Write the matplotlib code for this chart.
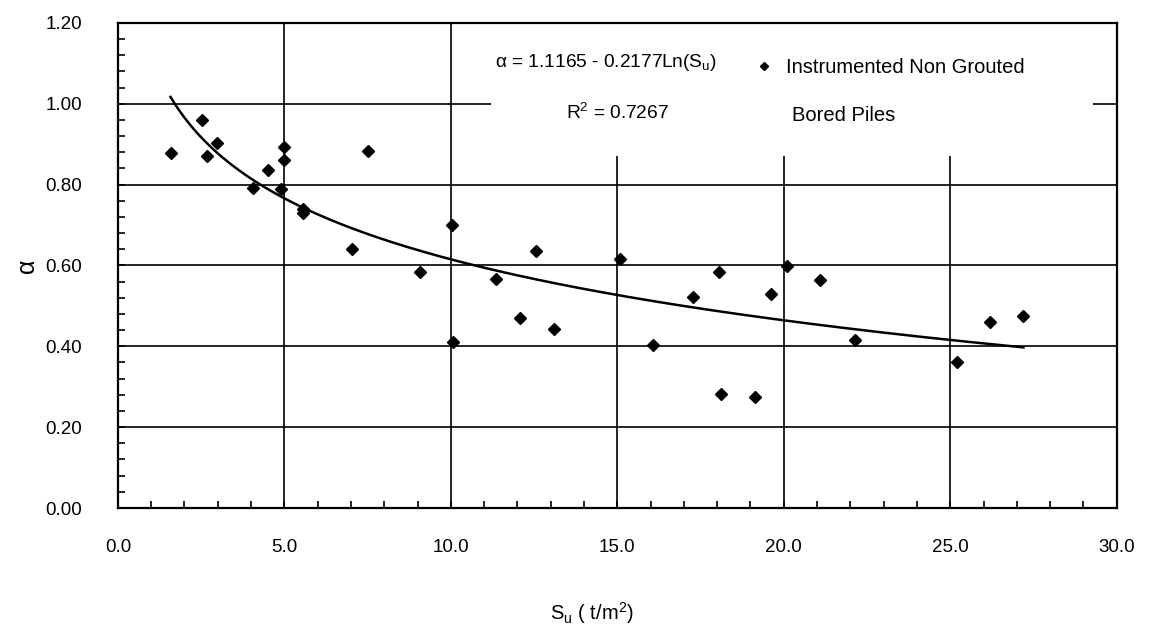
import numpy as np
import matplotlib
matplotlib.use("Agg")
import matplotlib.pyplot as plt
from matplotlib.patches import Rectangle
from matplotlib.ticker import MultipleLocator, FormatStrFormatter

# measured points (Su in t/m2, adhesion factor alpha)
su = [1.58, 2.52, 2.67, 2.99, 4.05, 4.52, 4.90, 5.00, 5.00, 5.55, 5.55,
      7.03, 7.50, 9.08, 10.02, 10.06, 11.37, 12.08, 12.55, 13.11, 15.08,
      16.07, 17.26, 18.06, 18.12, 19.13, 19.62, 20.11, 21.10, 22.13,
      25.20, 26.20, 27.20]
alpha = [0.878, 0.959, 0.871, 0.903, 0.791, 0.837, 0.788, 0.893, 0.862,
         0.739, 0.729, 0.640, 0.882, 0.583, 0.701, 0.410, 0.566, 0.471,
         0.637, 0.443, 0.617, 0.403, 0.523, 0.585, 0.282, 0.275, 0.530,
         0.599, 0.565, 0.416, 0.360, 0.461, 0.475]

# log fit reported on the chart
fit_a = 1.1165
fit_b = 0.2177
fit_r2 = 0.7267

plt.rcParams['font.family'] = ['Liberation Sans', 'DejaVu Sans']
plt.rcParams['mathtext.default'] = 'regular'

fig = plt.figure(figsize=(11.56, 6.37), dpi=100)
ax = fig.add_axes([0.102, 0.2025, 0.864, 0.7615])

ax.set_axisbelow(True)
ax.grid(True, which='major', color='black', linewidth=1.2)

# white panel behind the equation / legend text (hides the gridlines there)
ax.add_patch(Rectangle((11.2, 0.87), 18.1, 0.33, facecolor='white',
                       edgecolor='none', zorder=1))

ax.plot(su, alpha, linestyle='none', marker='D', markersize=6.5,
        color='black', zorder=3, label='Instrumented Non Grouted')

x_fit = np.linspace(min(su), max(su), 200)
ax.plot(x_fit, fit_a - fit_b * np.log(x_fit), color='black',
        linewidth=1.8, zorder=2)

ax.set_xlim(0, 30)
ax.set_ylim(0, 1.2)
ax.xaxis.set_major_locator(MultipleLocator(5))
ax.xaxis.set_minor_locator(MultipleLocator(1))
ax.yaxis.set_major_locator(MultipleLocator(0.2))
ax.yaxis.set_minor_locator(MultipleLocator(0.04))
ax.xaxis.set_major_formatter(FormatStrFormatter('%.1f'))
ax.yaxis.set_major_formatter(FormatStrFormatter('%.2f'))
ax.tick_params(which='both', direction='in', length=5, width=1.2,
               colors='black', labelsize=13.5)
ax.tick_params(axis='x', which='both', pad=22)
ax.tick_params(axis='y', which='both', pad=26)

for side in ax.spines:
    ax.spines[side].set_linewidth(1.6)
    ax.spines[side].set_color('black')

ax.set_xlabel('$S_u$ ( t/m$^2$)', fontsize=14.5)
ax.xaxis.set_label_coords(0.475, -0.19)
ax.set_ylabel('α', fontsize=18, labelpad=4)

ax.text(0.378, 0.918, 'α = %.4f - %.4fLn($S_u$)' % (fit_a, fit_b),
        transform=ax.transAxes, fontsize=13.8, va='center', ha='left',
        zorder=4)
ax.text(0.449, 0.815, '$R^2$ = %.4f' % fit_r2, transform=ax.transAxes,
        fontsize=13.8, va='center', ha='left', zorder=4)
ax.legend(loc='center left', bbox_to_anchor=(0.637, 0.908), frameon=False,
          handlelength=1.0, handletextpad=0.6, borderpad=0,
          borderaxespad=0, fontsize=14.5, markerscale=0.7)
ax.text(0.675, 0.81, 'Bored Piles', transform=ax.transAxes,
        fontsize=14.5, va='center', ha='left', zorder=4)

fig.savefig('out.png', dpi=100)
